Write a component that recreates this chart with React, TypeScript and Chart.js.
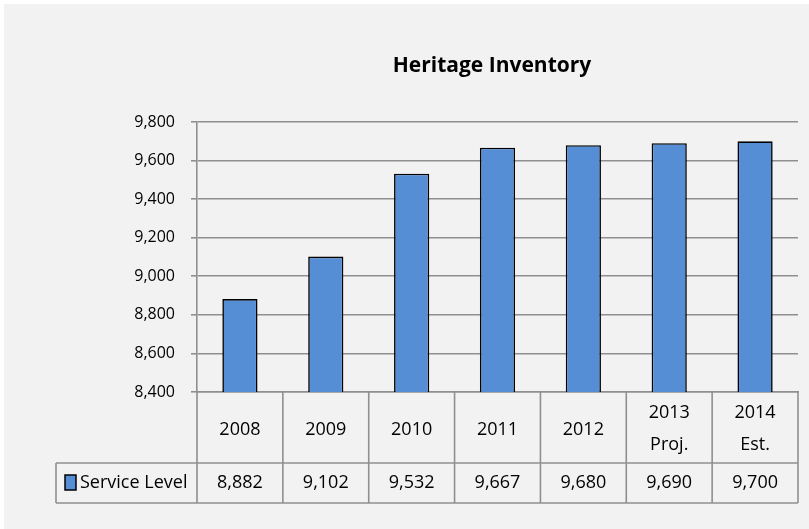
import React, { useEffect, useRef } from "react";
import { Chart, registerables } from "chart.js";

Chart.register(...registerables);

const chartTitle = "Heritage Inventory";
const seriesName = "Service Level";
const categories: string[][] = [
  ["2008"],
  ["2009"],
  ["2010"],
  ["2011"],
  ["2012"],
  ["2013", "Proj."],
  ["2014", "Est."],
];
const serviceLevel: number[] = [8882, 9102, 9532, 9667, 9680, 9690, 9700];
const yMin = 8400;
const yMax = 9800;
const yStep = 200;

const FONT = "'Open Sans', sans-serif";
const GRID = "#8f8f8f";
const LW = 1.6;
const BAR_FILL = "#558ED5";

const fmt = (v: number) => Number(v).toLocaleString("en-US");

const bgPlugin = {
  id: "bg",
  beforeDraw(chart: any) {
    const { ctx, width, height } = chart;
    ctx.save();
    ctx.fillStyle = "#ffffff";
    ctx.fillRect(0, 0, width, height);
    ctx.fillStyle = "#f2f2f2";
    ctx.fillRect(4, 4, width - 4, height - 4);
    ctx.restore();
  },
};

const titlePlugin = {
  id: "customTitle",
  afterDraw(chart: any) {
    const { ctx } = chart;
    ctx.save();
    ctx.fillStyle = "#000";
    ctx.font = `bold 21px ${FONT}`;
    ctx.textAlign = "center";
    ctx.textBaseline = "alphabetic";
    ctx.fillText(chartTitle, 492, 72);
    ctx.restore();
  },
};

const tablePlugin = {
  id: "dataTable",
  afterDraw(chart: any) {
    const { ctx, chartArea } = chart;
    const x = chart.scales.x;
    const n = categories.length;
    const cw = (chartArea.right - chartArea.left) / n;
    const top = chartArea.bottom;
    const mid = top + 71;
    const bot = top + 111;
    const legLeft = 56;
    ctx.save();
    ctx.strokeStyle = GRID;
    ctx.lineWidth = LW;
    const line = (x1: number, y1: number, x2: number, y2: number) => {
      ctx.beginPath();
      ctx.moveTo(x1, y1);
      ctx.lineTo(x2, y2);
      ctx.stroke();
    };
    for (let i = 0; i <= n; i++) {
      const bx = i === n ? chartArea.right : x.getPixelForValue(i) - cw / 2;
      line(bx, top, bx, bot);
    }
    line(legLeft, mid, chartArea.right, mid);
    line(legLeft, bot, chartArea.right, bot);
    line(legLeft, mid, legLeft, bot);

    ctx.fillStyle = "#000";
    ctx.font = `18px ${FONT}`;
    ctx.textAlign = "center";
    ctx.textBaseline = "middle";
    categories.forEach((lines, i) => {
      const cx = x.getPixelForValue(i);
      if (lines.length === 1) {
        ctx.fillText(lines[0], cx, top + 38);
      } else {
        lines.forEach((l, j) => ctx.fillText(l, cx, top + 21 + j * 32));
      }
    });
    serviceLevel.forEach((v, i) => {
      ctx.fillText(fmt(v), x.getPixelForValue(i), mid + 20);
    });

    // legend key
    const ds = chart.data.datasets[0];
    ctx.fillStyle = ds.backgroundColor;
    ctx.fillRect(65, mid + 12, 11, 15);
    ctx.strokeStyle = "#000";
    ctx.lineWidth = 1.5;
    ctx.strokeRect(65, mid + 12, 11, 15);
    ctx.fillStyle = "#000";
    ctx.textAlign = "left";
    ctx.fillText(ds.label, 80, mid + 20);
    ctx.restore();
  },
};

export default function App() {
  const ref = useRef<HTMLCanvasElement | null>(null);
  useEffect(() => {
    document.body.style.margin = "0";
    if (!ref.current) return;
    const chart = new Chart(ref.current, {
      type: "bar",
      data: {
        labels: categories.map((c) => c.join(" ")),
        datasets: [
          {
            label: seriesName,
            data: serviceLevel,
            backgroundColor: BAR_FILL,
            borderColor: "#000",
            borderWidth: 1.6,
            barPercentage: 0.41,
            categoryPercentage: 1,
          },
        ],
      },
      options: {
        responsive: false,
        animation: false,
        layout: { padding: { top: 122, right: 11, left: 0, bottom: 0 } },
        plugins: {
          legend: { display: false },
          title: { display: false },
          tooltip: { enabled: false },
        },
        scales: {
          x: {
            ticks: { display: false },
            grid: { display: false },
            border: { color: GRID, width: LW },
            afterFit: (s: any) => {
              s.height = 137;
            },
          },
          y: {
            min: yMin,
            max: yMax,
            ticks: {
              stepSize: yStep,
              padding: 16,
              color: "#000",
              font: { family: FONT, size: 16 },
              callback: (v: any) => fmt(Number(v)),
            },
            grid: { color: GRID, lineWidth: LW, tickLength: 6 },
            border: { color: GRID, width: LW },
            afterFit: (s: any) => {
              s.width = 197;
            },
          },
        },
      },
      plugins: [bgPlugin, titlePlugin, tablePlugin],
    });
    return () => chart.destroy();
  }, []);
  return <canvas ref={ref} width={809} height={529} style={{ display: "block" }} />;
}
